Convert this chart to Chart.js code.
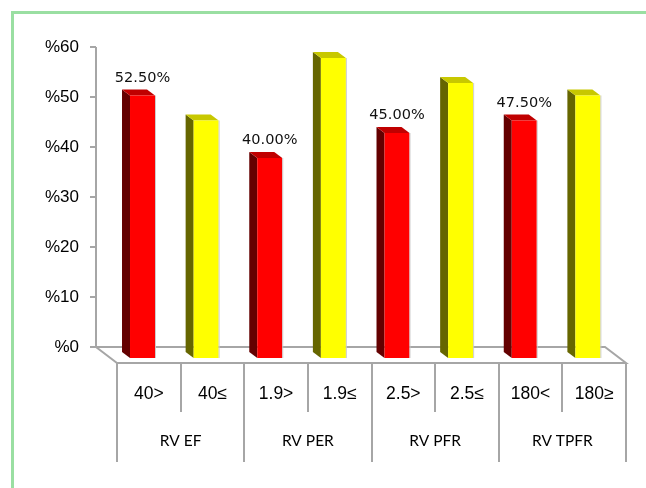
<!DOCTYPE html>
<html>
<head>
<meta charset="utf-8">
<script src="https://cdn.jsdelivr.net/npm/chart.js@4.4.0/dist/chart.umd.min.js"></script>
<style>
    html, body { margin: 0; padding: 0; background: #fff; }
    #wrap { position: relative; width: 646px; height: 488px; overflow: hidden; }
    #frame {
        position: absolute; left: 11px; top: 11px; width: 700px; height: 600px;
        border-left: 3px solid #9ADFA2; border-top: 3px solid #9ADFA2;
    }
    #chart { position: absolute; left: 0; top: 0; }
</style>
</head>
<body>
<div id="wrap">
    <div id="frame"></div>
    <canvas id="chart" width="646" height="488"></canvas>
</div>
<script>
const groups = ['RV EF', 'RV PER', 'RV PFR', 'RV TPFR'];
const subLabels = ['40>', '40≤', '1.9>', '1.9≤', '2.5>', '2.5≤', '180<', '180≥'];
const redValues = [52.5, null, 40, null, 45, null, 47.5, null];
const yellowValues = [null, 47.5, null, 60, null, 55, null, 52.5];
const yMax = 60;
const yStep = 10;

// 3D look: bar front face offset from the back wall, and bar depth
const FRONT_X = -6.3, FRONT_Y = 11;
const DEPTH_X = -8, DEPTH_Y = -6;
const FLOOR_X = 21, FLOOR_Y = 16;

const bars3d = {
    id: 'bars3d',
    beforeDatasetsDraw(chart) {
        const ctx = chart.ctx;
        const area = chart.chartArea;
        const y = chart.scales.y;
        const zero = y.getPixelForValue(0);
        const backLeft = area.left - FLOOR_X;
        const backRight = area.right - FLOOR_X;

        ctx.save();
        ctx.strokeStyle = '#A6A6A6';
        ctx.lineWidth = 2;

        // back wall axis + ticks
        ctx.beginPath();
        ctx.moveTo(backLeft, y.getPixelForValue(yMax));
        ctx.lineTo(backLeft, zero);
        y.ticks.forEach(t => {
            const ty = y.getPixelForValue(t.value);
            ctx.moveTo(backLeft - 6, ty);
            ctx.lineTo(backLeft, ty);
        });
        ctx.stroke();

        // floor
        ctx.beginPath();
        ctx.moveTo(backLeft, zero);
        ctx.lineTo(backRight, zero);
        ctx.lineTo(area.right, zero + FLOOR_Y);
        ctx.lineTo(area.left, zero + FLOOR_Y);
        ctx.closePath();
        ctx.stroke();

        // category dividers under the floor
        const top = zero + FLOOR_Y;
        const step = (area.right - area.left) / subLabels.length;
        ctx.beginPath();
        for (let i = 0; i <= subLabels.length; i++) {
            const dx = Math.round(area.left + i * step);
            const long = i % 2 === 0;
            ctx.moveTo(dx, top);
            ctx.lineTo(dx, long ? top + 99 : top + 49);
        }
        ctx.stroke();
        ctx.restore();
    },
    afterDatasetsDraw(chart) {
        const ctx = chart.ctx;
        chart.data.datasets.forEach((ds, di) => {
            const meta = chart.getDatasetMeta(di);
            meta.data.forEach((el, i) => {
                const v = ds.data[i];
                if (v === null) return;
                const p = el.getProps(['x', 'y', 'base', 'width'], true);
                const left = p.x - p.width / 2 + FRONT_X;
                const right = p.x + p.width / 2 + FRONT_X;
                const top = p.y + FRONT_Y;
                const bottom = p.base + FRONT_Y;

                ctx.save();
                // side
                ctx.fillStyle = ds.sideColor;
                ctx.beginPath();
                ctx.moveTo(left, top);
                ctx.lineTo(left + DEPTH_X, top + DEPTH_Y);
                ctx.lineTo(left + DEPTH_X, bottom + DEPTH_Y);
                ctx.lineTo(left, bottom);
                ctx.closePath();
                ctx.fill();
                // top
                ctx.fillStyle = ds.topColor;
                ctx.beginPath();
                ctx.moveTo(left, top);
                ctx.lineTo(left + DEPTH_X, top + DEPTH_Y);
                ctx.lineTo(right + DEPTH_X, top + DEPTH_Y);
                ctx.lineTo(right, top);
                ctx.closePath();
                ctx.fill();
                // front
                ctx.fillStyle = ds.frontColor;
                ctx.fillRect(left, top, right - left, bottom - top);
                ctx.strokeStyle = 'rgba(200, 200, 200, 0.9)';
                ctx.lineWidth = 1;
                ctx.beginPath();
                ctx.moveTo(right + 0.5, top);
                ctx.lineTo(right + 0.5, bottom);
                ctx.stroke();

                if (ds.showValues) {
                    ctx.fillStyle = '#111';
                    ctx.font = '14.5px "DejaVu Sans"';
                    ctx.textAlign = 'center';
                    ctx.textBaseline = 'middle';
                    ctx.fillText(v.toFixed(2) + '%', (left + right) / 2, top - 17.5);
                }
                ctx.restore();
            });
        });
    }
};

new Chart(document.getElementById('chart'), {
    type: 'bar',
    data: {
        labels: subLabels,
        datasets: [{
            label: 'red',
            data: redValues,
            backgroundColor: 'rgba(0, 0, 0, 0)',
            frontColor: '#FF0000',
            sideColor: '#640000',
            topColor: '#C00000',
            showValues: true,
            barPercentage: 0.393,
            categoryPercentage: 1
        }, {
            label: 'yellow',
            data: yellowValues,
            backgroundColor: 'rgba(0, 0, 0, 0)',
            frontColor: '#FFFF00',
            sideColor: '#666600',
            topColor: '#C8C800',
            showValues: false,
            barPercentage: 0.393,
            categoryPercentage: 1
        }]
    },
    options: {
        responsive: false,
        animation: false,
        layout: { padding: { top: 47, right: 20, bottom: 25, left: 0 } },
        plugins: {
            legend: { display: false },
            tooltip: { enabled: false }
        },
        scales: {
            x: {
                stacked: true,
                offset: true,
                grid: { display: false },
                border: { display: false },
                ticks: {
                    color: '#000',
                    padding: 29,
                    maxRotation: 0,
                    autoSkip: false,
                    font: { family: '"Liberation Sans"', size: 17.5 }
                },
                afterFit(scale) { scale.height = 66; }
            },
            x2: {
                type: 'category',
                labels: groups,
                position: 'bottom',
                offset: true,
                grid: { display: false },
                border: { display: false },
                ticks: {
                    color: '#000',
                    padding: 11,
                    maxRotation: 0,
                    autoSkip: false,
                    font: { family: 'Lato', size: 15.5 }
                },
                afterFit(scale) { scale.height = 50; }
            },
            y: {
                stacked: true,
                min: 0,
                max: yMax,
                grid: { display: false },
                border: { display: false },
                ticks: {
                    stepSize: yStep,
                    color: '#000',
                    padding: 30,
                    callback: v => '%' + v,
                    font: { family: '"Liberation Sans"', size: 17 }
                },
                afterFit(scale) { scale.width = 117; }
            }
        }
    },
    plugins: [bars3d]
});
</script>
</body>
</html>
